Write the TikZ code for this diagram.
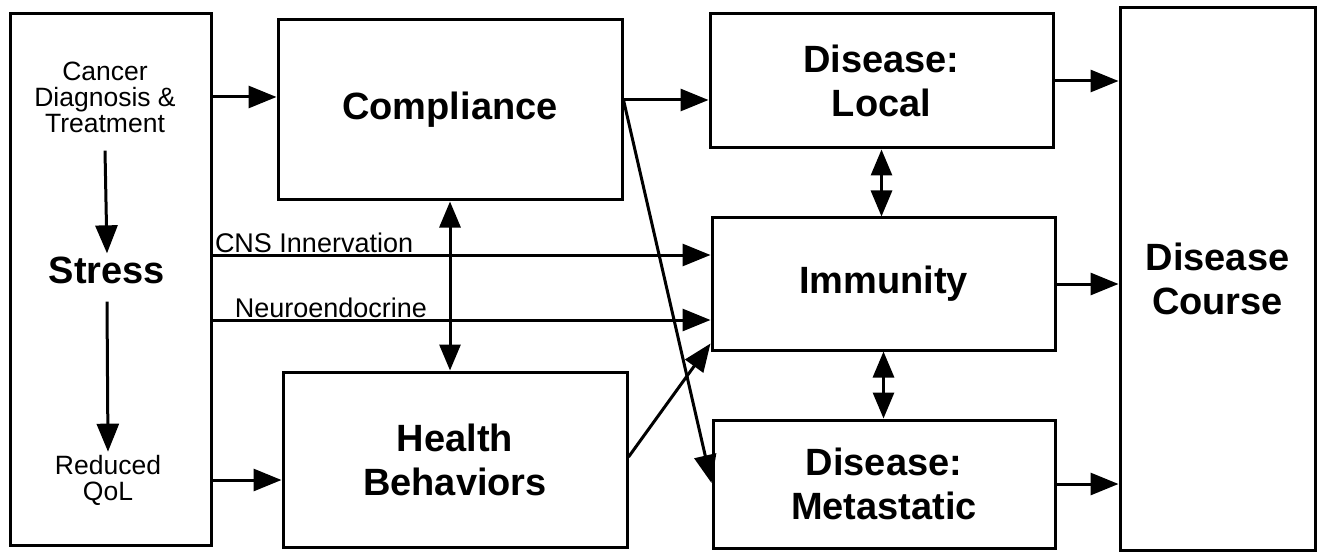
\documentclass[tikz,border=0pt]{standalone}
\usepackage{fontspec}
\setmainfont{Liberation Sans}
\usetikzlibrary{arrows.meta,calc}
\begin{document}
\begin{tikzpicture}[x=1pt,y=-1pt,
  box/.style={draw,line width=3pt,rectangle,inner sep=0pt},
  big/.style={font=\fontsize{38}{44}\selectfont\bfseries,align=center,inner sep=0pt},
  small/.style={font=\fontsize{26.5}{26}\selectfont,align=center,inner sep=0pt},
  lbl/.style={font=\fontsize{27}{27}\selectfont,inner sep=1pt},
  conn/.style={line width=3pt},
  arr/.style={conn,-{Triangle[length=28pt,width=22pt]}},
  darr/.style={conn,{Triangle[length=26pt,width=21pt]}-{Triangle[length=26pt,width=21pt]}}]
\useasboundingbox (0,0) rectangle (1322,556);
% boxes
\node[box,minimum width=201pt,minimum height=531pt] (left) at (110.5,279.5) {};
\node[box,minimum width=344pt,minimum height=180pt] (comp) at (450,110) {};
\node[big] at (comp) {Compliance};
\node[box,minimum width=344pt,minimum height=175pt] (hb) at (455,459.5) {};
\node[big] at (hb) {Health\\Behaviors};
\node[box,minimum width=343pt,minimum height=134pt] (loc) at (881.5,81) {};
\node[big] at (loc) {Disease:\\Local};
\node[box,minimum width=343pt,minimum height=132pt] (imm) at (883.5,284) {};
\node[big] at (imm) {Immunity};
\node[box,minimum width=342pt,minimum height=128pt] (met) at (884,484) {};
\node[big] at (met) {Disease:\\Metastatic};
\node[box,minimum width=195pt,minimum height=542pt] (dc) at (1217.5,279) {};
\node[big] at (dc) {Disease\\Course};
% inner left column
\node[small] (cdt) at (105,97) {Cancer\\Diagnosis \&\\Treatment};
\node[big] (stress) at (107,270) {Stress};
\node[small] (qol) at (108,480) {Reduced\\QoL};
\draw[arr] ($(cdt.south)+(0,18)$) -- ($(stress.north)+(0,-3)$);
\draw[arr] ($(stress.south)+(0,18)$) -- ($(qol.north)+(0,-3)$);
% coordinates for rows
\coordinate (yc) at (0,100);
\coordinate (ycns) at (0,255);
\coordinate (yneu) at (0,320);
\coordinate (yhb) at (0,457);
\coordinate (ymet) at (0,483);
% left to middle
\draw[arr] (left.east |- cdt) -- (comp.west |- cdt);
\draw[arr] (left.east |- qol) -- (hb.west |- qol);
\draw[arr] (left.east |- ycns) -- node[lbl,pos=0,anchor=south west] {CNS Innervation} (imm.west |- ycns);
\draw[arr] (left.east |- yneu) -- node[lbl,pos=0.04,anchor=south west] {Neuroendocrine} (imm.west |- yneu);
\draw[darr] (comp.south) -- (comp.south |- hb.north);
% middle to right
\draw[arr] (comp.east |- yc) -- (loc.west |- yc);
\draw[arr] (comp.east |- yc) -- (met.west |- ymet);
\draw[arr] (hb.east |- yhb) -- ($(imm.south west)+(0,-8)$);
\draw[darr] (loc.south) -- (loc.south |- imm.north);
\draw[darr] (imm.south) -- (imm.south |- met.north);
\draw[arr] (loc.east) -- (dc.west |- loc.east);
\draw[arr] (imm.east) -- (dc.west |- imm.east);
\draw[arr] (met.east) -- (dc.west |- met.east);
\end{tikzpicture}
\end{document}
